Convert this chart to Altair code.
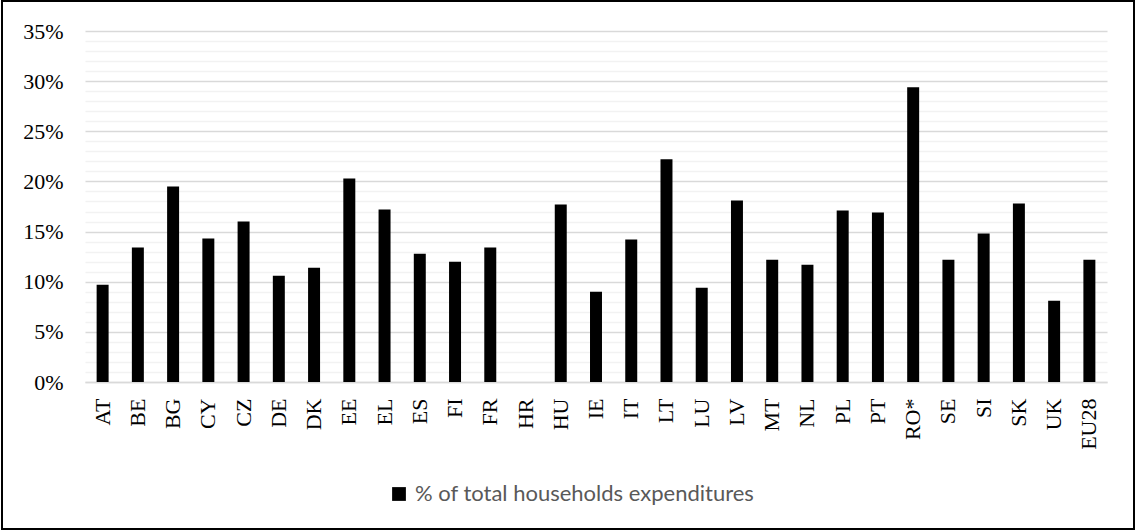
import altair as alt
import pandas as pd

countries = ["AT", "BE", "BG", "CY", "CZ", "DE", "DK", "EE", "EL", "ES", "FI", "FR", "HR",
             "HU", "IE", "IT", "LT", "LU", "LV", "MT", "NL", "PL", "PT", "RO*", "SE", "SI",
             "SK", "UK", "EU28"]
values_pct = [9.7, 13.4, 19.5, 14.3, 16.0, 10.6, 11.4, 20.3, 17.2, 12.8, 12.0, 13.4, None,
              17.7, 9.0, 14.2, 22.2, 9.4, 18.1, 12.2, 11.7, 17.1, 16.9, 29.4, 12.2, 14.8,
              17.8, 8.1, 12.2]
series_name = "% of total households expenditures"
y_ticks = [i / 100 for i in range(0, 36)]

df = pd.DataFrame({
    "country": countries,
    "value": [None if v is None else v / 100 for v in values_pct],
    "series": [series_name] * len(countries),
})

bars = alt.Chart(df).mark_bar(color="black").encode(
    x=alt.X("country:N", sort=countries, title=None,
            scale=alt.Scale(paddingInner=0.66, paddingOuter=0.33),
            axis=alt.Axis(labelAngle=270, labelAlign="right", labelBaseline="middle",
                          labelFont="Liberation Serif", labelFontSize=22, labelColor="black",
                          labelPadding=16, ticks=False, domainColor="#d9d9d9", domainWidth=1.5,
                          grid=False)),
    y=alt.Y("value:Q", title=None, scale=alt.Scale(domain=[0, 0.35], nice=False),
            axis=alt.Axis(values=y_ticks, grid=True,
                          gridColor={"condition": {"test": "round(datum.value*100) % 5 === 0",
                                                   "value": "#d9d9d9"},
                                     "value": "#f2f2f2"},
                          gridWidth=1.5,
                          labelExpr="round(datum.value*100) % 5 === 0 ? format(datum.value, '.0%') : ''",
                          labelFont="Liberation Serif", labelFontSize=22, labelColor="black",
                          labelPadding=22, ticks=False, domain=False)),
    color=alt.Color("series:N", scale=alt.Scale(range=["black"]),
                    legend=alt.Legend(title=None, orient="none", legendX=303, legendY=452,
                                      symbolType="square", symbolSize=190,
                                      symbolStrokeWidth=0, labelOffset=5,
                                      labelFont="Lato", labelFontSize=22, labelColor="#595959",
                                      labelLimit=600)),
)

frame = alt.Chart(pd.DataFrame({"f": [0]})).mark_rect(
    fillOpacity=0, stroke="black", strokeWidth=2
).encode(
    x=alt.value(-83), x2=alt.value(1049), y=alt.value(-30), y2=alt.value(498)
)

chart = alt.layer(bars, frame).properties(
    width=1022, height=351,
    autosize=alt.AutoSizeParams(type="none"),
    padding={"left": 85, "top": 31, "right": 29, "bottom": 150},
    background="white",
).configure_view(stroke=None)

chart.save("out.html", embed_options={"renderer": "svg", "actions": False})
